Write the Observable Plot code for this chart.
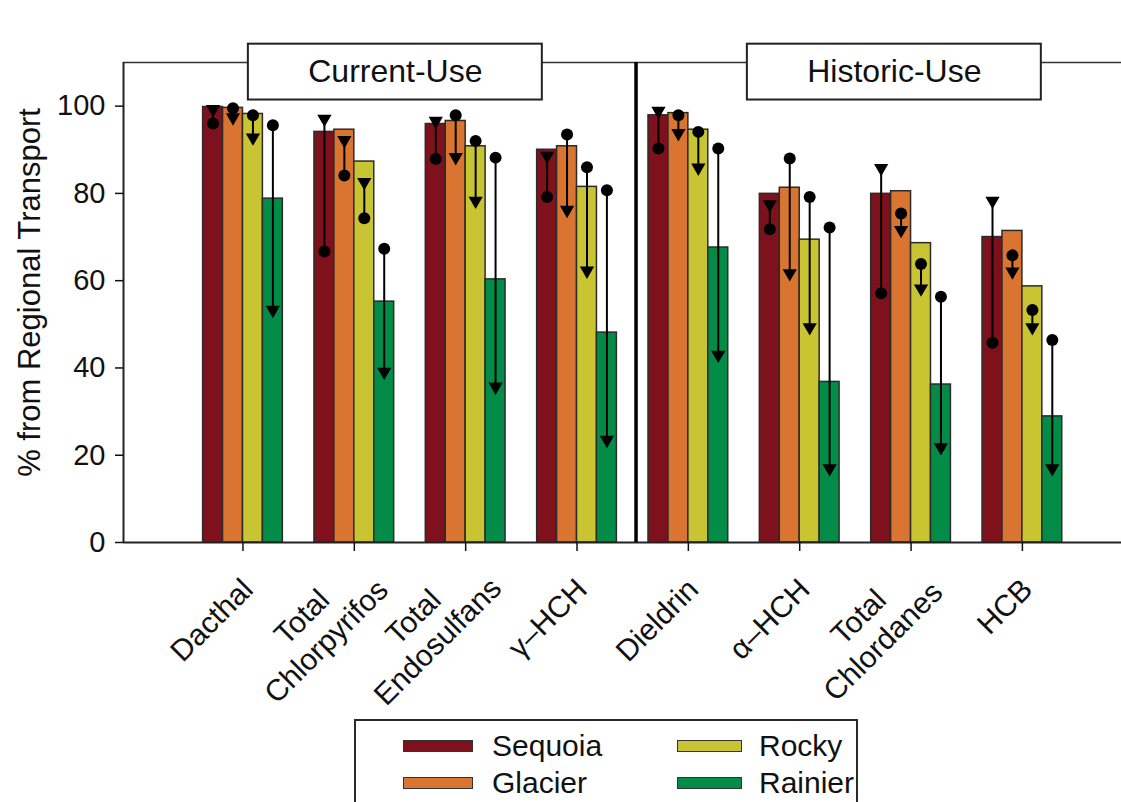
<!DOCTYPE html>
<html><head><meta charset="utf-8">
<script src="https://cdn.jsdelivr.net/npm/d3@7"></script>
<script src="https://cdn.jsdelivr.net/npm/@observablehq/plot@0.6"></script>
<style>
body{margin:0;background:#fff;font-family:"Liberation Sans",Arial,sans-serif;}
#wrap{position:relative;width:1121px;height:802px;overflow:hidden;background:#fff;}
#legend{position:absolute;left:354px;top:719px;width:504px;height:130px;border:2px solid #2a2a2a;box-sizing:border-box;background:#fff;}
.item{position:absolute;height:36px;display:flex;align-items:center;font-size:30px;color:#111;white-space:nowrap;}
.sw{height:12px;border:1px solid #333;box-sizing:border-box;}
</style></head><body><div id="wrap"></div>
<script>
// ---- data ----
const compounds = ["Dacthal", "Total\nChlorpyrifos", "Total\nEndosulfans", "γ–HCH", "Dieldrin", "α–HCH", "Total\nChlordanes", "HCB"];
const sites = ["Sequoia", "Glacier", "Rocky", "Rainier"];
const siteColors = ["#7e111b", "#d97530", "#c9c432", "#038c47"];
const yTicks = [0, 20, 40, 60, 80, 100];
const sectionLabels = ["Current-Use", "Historic-Use"];

// bar heights (% from regional transport)
const sequoiaPct = [99.8, 94.1, 95.9, 90.0, 97.9, 79.9, 79.9, 70.0];
const glacierPct = [99.6, 94.6, 96.6, 90.8, 98.4, 81.3, 80.5, 71.4];
const rockyPct   = [98.2, 87.3, 90.8, 81.5, 94.6, 69.4, 68.6, 58.7];
const rainierPct = [78.8, 55.2, 60.3, 48.1, 67.6, 36.8, 36.2, 28.9];
// circle estimates
const sequoiaCircle = [96.0, 66.7, 87.9, 79.2, 90.3, 71.8, 57.1, 45.8];
const glacierCircle = [99.5, 84.1, 97.9, 93.5, 97.9, 88.0, 75.4, 65.8];
const rockyCircle   = [97.9, 74.3, 92.0, 86.0, 94.1, 79.2, 63.8, 53.3];
const rainierCircle = [95.6, 67.3, 88.2, 80.7, 90.3, 72.2, 56.3, 46.4];
// triangle estimates
const sequoiaTri = [99.3, 97.1, 96.6, 88.6, 98.9, 77.5, 85.8, 78.3];
const glacierTri = [97.4, 92.2, 88.3, 76.2, 93.8, 61.7, 71.6, 62.1];
const rockyTri   = [92.8, 82.6, 78.3, 62.3, 85.9, 49.3, 58.2, 49.3];
const rainierTri = [53.3, 39.1, 35.7, 23.5, 43.0, 17.0, 21.8, 17.0];

const pctBySite = [sequoiaPct, glacierPct, rockyPct, rainierPct];
const circleBySite = [sequoiaCircle, glacierCircle, rockyCircle, rainierCircle];
const triBySite = [sequoiaTri, glacierTri, rockyTri, rainierTri];

// ---- layout constants ----
const XMIN = -0.073, XMAX = 8.89, DIVIDE = 4.53, YTOP = 110;
const BW = 0.179; // bar width in group units

const rows = [];
compounds.forEach((c, gi) => sites.forEach((s, si) => rows.push({
  compound: c, site: s, g: gi + 1, si,
  value: pctBySite[si][gi], circle: circleBySite[si][gi], tri: triBySite[si][gi]
})));
const bx1 = d => d.g + (d.si - 2) * BW;
const bx2 = d => d.g + (d.si - 1) * BW;
const bxc = d => d.g + (d.si - 1.5) * BW;

const labels = compounds.map((c, i) => ({label: c, g: i + 1, multi: c.includes("\n")}));
const bounds = [XMIN, DIVIDE, XMAX];
const sections = sectionLabels.map((l, i) => ({label: l, c: (bounds[i] + bounds[i + 1]) / 2 + 0.14}));

const font = "Liberation Sans, Arial, Helvetica, sans-serif";

const chart = Plot.plot({
  width: 1121, height: 712,
  marginLeft: 123, marginRight: 0, marginTop: 62, marginBottom: 170,
  style: {fontFamily: font, background: "white", color: "#111", overflow: "visible"},
  x: {type: "linear", domain: [XMIN, XMAX]},
  y: {domain: [0, YTOP]},
  color: {domain: sites, range: siteColors},
  marks: [
    Plot.rect(rows, {x1: bx1, x2: bx2, y1: () => 0, y2: "value", fill: "site", stroke: "#2b2b2b", strokeWidth: 1.5}),
    Plot.ruleX(rows, {x: bxc, y1: "circle", y2: "tri", stroke: "#000", strokeWidth: 2}),
    Plot.dot(rows, {x: bxc, y: "circle", r: 6, fill: "#000", stroke: null}),
    Plot.dot(rows, {x: bxc, y: "tri", symbol: "triangle", rotate: 180, r: 5.3, fill: "#000", stroke: null}),
    Plot.ruleY([0], {stroke: "#222", strokeWidth: 2}),
    Plot.ruleY([YTOP], {stroke: "#333", strokeWidth: 1.6}),
    Plot.ruleX([XMIN], {y1: 0, y2: YTOP, stroke: "#222", strokeWidth: 2}),
    Plot.ruleX([DIVIDE], {y1: 0, y2: YTOP, stroke: "#000", strokeWidth: 3.5}),
    Plot.axisY({ticks: yTicks, tickSize: 8, tickPadding: 10, fontSize: 29, strokeWidth: 1.5, label: null, fill: "#111"}),
    Plot.axisX({ticks: d3.range(1, 9), tickSize: 9, strokeWidth: 1.5, tickFormat: () => "", label: null}),
    Plot.text(["% from Regional Transport"], {frameAnchor: "left", textAnchor: "middle", rotate: -90, dx: -93, dy: -10, fontSize: 31, fill: "#111"}),
    Plot.text(labels, {filter: d => !d.multi, x: "g", y: () => 0, text: "label", textAnchor: "end", lineAnchor: "middle", rotate: -45, dx: 5, dy: 42, fontSize: 30, fill: "#111"}),
    Plot.text(labels, {filter: d => d.multi, x: "g", y: () => 0, text: "label", textAnchor: "middle", lineAnchor: "middle", lineHeight: 1.15, rotate: -45, dx: -41, dy: 86, fontSize: 30, fill: "#111"}),
    Plot.rect(sections, {x1: d => d.c - 1.32, x2: d => d.c + 1.32, y1: () => 101.4, y2: () => 114.2, fill: "white", stroke: "#222", strokeWidth: 2}),
    Plot.text(sections, {x: "c", y: () => 107.9, text: "label", fontSize: 32, fill: "#111"})
  ]
});
const wrap = document.getElementById("wrap");
wrap.appendChild(chart);

// legend (HTML, below the plot)
const legend = document.createElement("div");
legend.id = "legend";
const legendPos = [[47, 7, 70, 19], [47, 44, 70, 19], [321, 7, 65, 17], [321, 44, 65, 17]];
sites.forEach((s, i) => {
  const [l, t, w, gap] = legendPos[i];
  const it = document.createElement("div");
  it.className = "item";
  it.style.left = l + "px"; it.style.top = t + "px";
  const sw = document.createElement("span");
  sw.className = "sw"; sw.style.width = w + "px"; sw.style.background = siteColors[i];
  const tx = document.createElement("span");
  tx.textContent = s; tx.style.marginLeft = gap + "px";
  it.appendChild(sw); it.appendChild(tx);
  legend.appendChild(it);
});
wrap.appendChild(legend);
</script>
</body></html>
